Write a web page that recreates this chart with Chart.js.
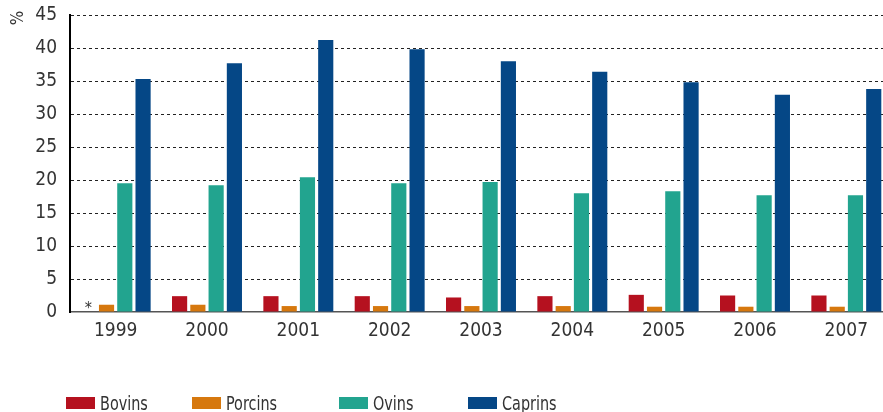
<!DOCTYPE html>
<html lang="fr">
<head>
  <meta charset="UTF-8" />
  <title>Bovins, porcins, ovins, caprins</title>
  <script src="https://cdn.jsdelivr.net/npm/chart.js"></script>
  <style>
    html, body {
      margin: 0;
      padding: 0;
      background: #fff;
    }
    #wrap {
      position: relative;
      width: 883px;
      height: 412px;
      overflow: hidden;
    }
    .legend {
      position: absolute;
      top: 392px;
      left: 0;
      width: 883px;
      height: 20px;
      font-family: "Liberation Sans Narrow", "DejaVu Sans Condensed", "Arial Narrow", sans-serif;
      font-size: 20px;
      color: #333;
    }
    .legend .item {
      position: absolute;
      top: 0;
      white-space: nowrap;
      line-height: 22px;
    }
    .legend i {
      display: inline-block;
      width: 29px;
      height: 12px;
      margin-right: 5px;
      vertical-align: 1px;
    }
    .legend b {
      display: inline-block;
      font-weight: normal;
      transform: scaleX(0.8);
      transform-origin: left center;
    }
  </style>
</head>
<body>
  <div id="wrap">
    <!-- canvas a bit wider than the window: the last group runs to the edge -->
    <canvas id="chart" width="892" height="412"></canvas>
    <div class="legend" id="legend"></div>
  </div>

  <script>
    const years = ["1999", "2000", "2001", "2002", "2003", "2004", "2005", "2006", "2007"];
    const bovins = [null, 2.4, 2.4, 2.4, 2.2, 2.4, 2.6, 2.5, 2.5];
    const porcins = [1.1, 1.1, 0.9, 0.9, 0.9, 0.9, 0.8, 0.8, 0.8];
    const ovins = [19.5, 19.2, 20.4, 19.5, 19.7, 18.0, 18.3, 17.7, 17.7];
    const caprins = [35.3, 37.7, 41.2, 39.8, 38.0, 36.4, 34.8, 32.9, 33.8];
    const yTicks = [0, 5, 10, 15, 20, 25, 30, 35, 40, 45];

    const fontFamily = '"Liberation Sans Narrow", "DejaVu Sans Condensed", "Arial Narrow", sans-serif';

    const series = [
      { label: "Bovins", data: bovins, color: "#b5111f", left: 66 },
      { label: "Porcins", data: porcins, color: "#d6780e", left: 192 },
      { label: "Ovins", data: ovins, color: "#22a48f", left: 339 },
      { label: "Caprins", data: caprins, color: "#054786", left: 468 }
    ];

    // html legend, spacing of the original is irregular
    const legendEl = document.getElementById("legend");
    series.forEach(s => {
      const item = document.createElement("span");
      item.className = "item";
      item.style.left = s.left + "px";
      item.innerHTML = `<i style="background:${s.color}"></i><b>${s.label}</b>`;
      legendEl.appendChild(item);
    });

    // "%" on top of the y axis and "*" where a value is missing
    const extras = {
      id: "extras",
      afterDraw(chart) {
        const ctx = chart.ctx;
        ctx.save();
        ctx.fillStyle = "#333";
        ctx.font = "17px " + fontFamily;
        ctx.translate(19, 18);
        ctx.rotate(-Math.PI / 2);
        ctx.textAlign = "center";
        ctx.textBaseline = "middle";
        ctx.fillText("%", 0, 0);
        ctx.restore();

        chart.data.datasets.forEach((ds, i) => {
          const meta = chart.getDatasetMeta(i);
          ds.data.forEach((v, j) => {
            if (v === null) {
              const el = meta.data[j];
              ctx.save();
              ctx.fillStyle = "#333";
              ctx.font = "16px " + fontFamily;
              ctx.textAlign = "center";
              ctx.fillText("*", el.x, chart.scales.y.getPixelForValue(0) + 1);
              ctx.restore();
            }
          });
        });
      }
    };

    new Chart(document.getElementById("chart"), {
      type: "bar",
      data: {
        labels: years,
        datasets: series.map(s => ({
          label: s.label,
          data: s.data,
          backgroundColor: s.color,
          borderWidth: 0,
          categoryPercentage: 0.8,
          barPercentage: 0.83
        }))
      },
      options: {
        responsive: false,
        animation: false,
        layout: { padding: { top: 15, right: 0, left: 0, bottom: 0 } },
        plugins: {
          legend: { display: false },
          tooltip: { enabled: false }
        },
        scales: {
          x: {
            grid: { display: false, drawTicks: false },
            border: { color: "#555", width: 1.5 },
            ticks: {
              color: "#333",
              padding: 8,
              font: { family: fontFamily, size: 19 }
            },
            afterFit(scale) {
              scale.height = 100;
              scale.paddingLeft = 0;
              scale.paddingRight = 0;
            }
          },
          y: {
            min: 0,
            max: 45,
            afterBuildTicks(scale) {
              scale.ticks = yTicks.map(v => ({ value: v }));
            },
            grid: {
              drawTicks: false,
              color: ctx => ctx.tick && ctx.tick.value === 0 ? "rgba(0,0,0,0)" : "#222",
              lineWidth: 1
            },
            border: { color: "#000", width: 2, dash: [3, 3] },
            ticks: {
              color: "#333",
              padding: 13,
              font: { family: fontFamily, size: 19 }
            },
            afterFit(scale) {
              scale.width = 70;
              scale.paddingTop = 0;
              scale.paddingBottom = 0;
            }
          }
        }
      },
      plugins: [extras]
    });
  </script>
</body>
</html>
